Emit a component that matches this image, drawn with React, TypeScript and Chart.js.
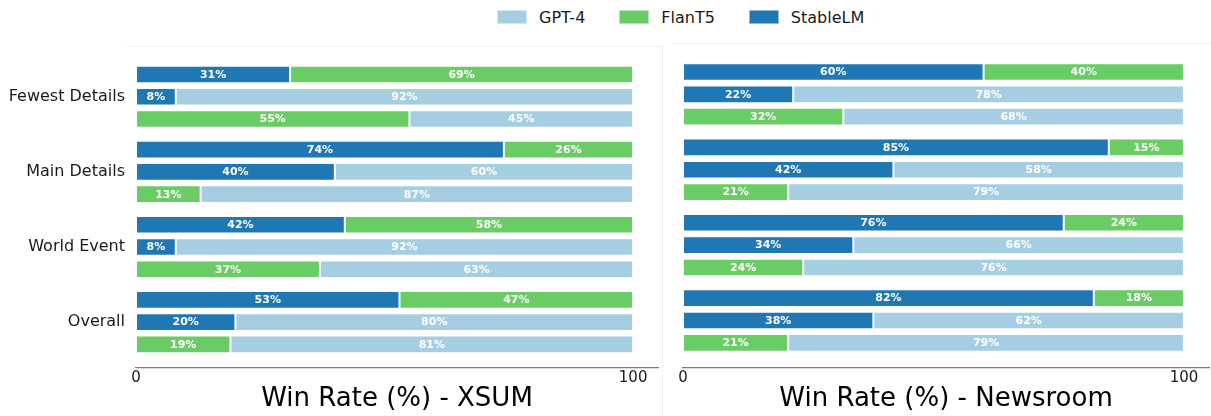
import React, { useEffect, useRef } from "react";
import { Chart, registerables } from "chart.js";

Chart.register(...registerables);

// ---------- data ----------
const categories = ["Fewest Details", "Main Details", "World Event", "Overall"];
const legendLabels = ["GPT-4", "FlanT5", "StableLM"];
const xTickValues = [0, 100];

// XSUM
const xsumRowA_StableLM = [31, 74, 42, 53];
const xsumRowA_FlanT5 = [69, 26, 58, 47];
const xsumRowB_StableLM = [8, 40, 8, 20];
const xsumRowB_GPT4 = [92, 60, 92, 80];
const xsumRowC_FlanT5 = [55, 13, 37, 19];
const xsumRowC_GPT4 = [45, 87, 63, 81];

// Newsroom
const newsRowA_StableLM = [60, 85, 76, 82];
const newsRowA_FlanT5 = [40, 15, 24, 18];
const newsRowB_StableLM = [22, 42, 34, 38];
const newsRowB_GPT4 = [78, 58, 66, 62];
const newsRowC_FlanT5 = [32, 21, 24, 21];
const newsRowC_GPT4 = [68, 79, 76, 79];

// ---------- styles ----------
const COLORS: Record<string, string> = {
  "GPT-4": "#a6cee3",
  FlanT5: "#6acc64",
  StableLM: "#1f77b4",
};
const FONT = '"DejaVu Sans", "Liberation Sans", sans-serif';

type Rows = {
  aStable: number[];
  aFlan: number[];
  bStable: number[];
  bGpt: number[];
  cFlan: number[];
  cGpt: number[];
};

function pts(vals: number[]) {
  return vals.map((v, i) => ({ x: v, y: i }));
}

function makeDatasets(r: Rows) {
  const mk = (label: string, stack: string, vals: number[]) => ({
    label,
    stack,
    data: pts(vals),
    backgroundColor: COLORS[label],
    borderColor: "rgba(255,255,255,0.55)",
    borderWidth: 1,
    borderSkipped: false,
    categoryPercentage: 0.89,
    barPercentage: 0.79,
  });
  return [
    mk("StableLM", "a", r.aStable),
    mk("FlanT5", "a", r.aFlan),
    mk("StableLM", "b", r.bStable),
    mk("GPT-4", "b", r.bGpt),
    mk("FlanT5", "c", r.cFlan),
    mk("GPT-4", "c", r.cGpt),
  ];
}

const barLabelPlugin = {
  id: "barLabels",
  afterDatasetsDraw(chart: any) {
    const ctx = chart.ctx;
    ctx.save();
    ctx.font = `bold 11px ${FONT}`;
    ctx.fillStyle = "#ffffff";
    ctx.textAlign = "center";
    ctx.textBaseline = "middle";
    chart.data.datasets.forEach((ds: any, di: number) => {
      const meta = chart.getDatasetMeta(di);
      meta.data.forEach((el: any, i: number) => {
        const v = ds.data[i].x;
        const p = el.getProps(["x", "base", "y"], true);
        ctx.fillText(`${v}%`, (p.x + p.base) / 2, p.y + 0.5);
      });
    });
    ctx.restore();
  },
};

function makeFramePlugin(kind: "left" | "right") {
  return {
    id: "frame",
    beforeDraw(chart: any) {
      const ctx = chart.ctx;
      const a = chart.chartArea;
      ctx.save();
      ctx.strokeStyle = "#f0f0f0";
      ctx.lineWidth = 1;
      ctx.beginPath();
      if (kind === "left") {
        ctx.moveTo(a.left - 9, a.top + 0.5);
        ctx.lineTo(chart.width - 0.5, a.top + 0.5);
        ctx.moveTo(chart.width - 0.5, a.top);
        ctx.lineTo(chart.width - 0.5, chart.height);
      } else {
        ctx.moveTo(10, a.top + 0.5);
        ctx.lineTo(chart.width, a.top + 0.5);
      }
      ctx.stroke();
      ctx.restore();
    },
  };
}

type PanelProps = {
  rows: Rows;
  title: string;
  width: number;
  left: number;
  yAxisWidth: number;
  padRight: number;
  padTop: number;
  yMin: number;
  yMax: number;
  showYLabels: boolean;
  kind: "left" | "right";
};

function Panel(props: PanelProps) {
  const ref = useRef<HTMLCanvasElement | null>(null);
  useEffect(() => {
    if (!ref.current) return;
    const chart = new Chart(ref.current, {
      type: "bar",
      data: { datasets: makeDatasets(props.rows) as any },
      plugins: [makeFramePlugin(props.kind), barLabelPlugin],
      options: {
        indexAxis: "y",
        animation: false,
        responsive: false,
        devicePixelRatio: 1,
        layout: { padding: { top: props.padTop, right: props.padRight, left: 0, bottom: 0 } },
        plugins: {
          legend: { display: false },
          tooltip: { enabled: false },
        },
        scales: {
          x: {
            type: "linear",
            stacked: true,
            min: 0,
            max: 105,
            afterBuildTicks: (s: any) => {
              s.ticks = xTickValues.map((v) => ({ value: v }));
            },
            afterFit: (s: any) => {
              s.height = 48;
            },
            grid: { display: false, drawTicks: false },
            border: { display: true, color: "#7a7a7a", width: 1.25 },
            ticks: {
              padding: 1,
              color: "#1a1a1a",
              font: { family: FONT, size: 15 },
              maxRotation: 0,
              autoSkip: false,
            },
            title: {
              display: true,
              text: props.title,
              color: "#000000",
              font: { family: FONT, size: 26 },
              padding: { top: 0, bottom: 1 },
            },
          },
          y: {
            type: "linear",
            reverse: true,
            offset: false,
            min: props.yMin,
            max: props.yMax,
            afterBuildTicks: (s: any) => {
              s.ticks = categories.map((_, i) => ({ value: i }));
            },
            afterFit: (s: any) => {
              s.width = props.yAxisWidth;
            },
            grid: { display: false, drawTicks: false },
            border: { display: false },
            ticks: {
              display: props.showYLabels,
              padding: 11,
              color: "#1a1a1a",
              autoSkip: false,
              font: { family: FONT, size: 16 },
              callback: (v: any) => categories[Number(v)] ?? "",
            },
          },
        },
      } as any,
    });
    return () => chart.destroy();
  }, []);
  return (
    <canvas
      ref={ref}
      width={props.width}
      height={416}
      style={{ position: "absolute", left: props.left, top: 0, width: props.width, height: 416 }}
    />
  );
}

function Legend() {
  return (
    <div
      style={{
        position: "absolute",
        left: 497,
        top: 0,
        height: 34,
        display: "flex",
        alignItems: "center",
        fontFamily: FONT,
        fontSize: 16,
        color: "#1a1a1a",
        whiteSpace: "nowrap",
      }}
    >
      {legendLabels.map((l, i) => (
        <div key={l} style={{ display: "flex", alignItems: "center", marginLeft: i === 0 ? 0 : 34 }}>
          <div
            style={{
              width: 30,
              height: 14,
              background: COLORS[l],
              boxSizing: "border-box",
              border: "1px solid rgba(255,255,255,0.5)",
              marginRight: 12,
            }}
          />
          <span>{l}</span>
        </div>
      ))}
    </div>
  );
}

export default function App() {
  const xsum: Rows = {
    aStable: xsumRowA_StableLM,
    aFlan: xsumRowA_FlanT5,
    bStable: xsumRowB_StableLM,
    bGpt: xsumRowB_GPT4,
    cFlan: xsumRowC_FlanT5,
    cGpt: xsumRowC_GPT4,
  };
  const news: Rows = {
    aStable: newsRowA_StableLM,
    aFlan: newsRowA_FlanT5,
    bStable: newsRowB_StableLM,
    bGpt: newsRowB_GPT4,
    cFlan: newsRowC_FlanT5,
    cGpt: newsRowC_GPT4,
  };
  return (
    <div
      style={{
        position: "fixed",
        left: 0,
        top: 0,
        width: 1211,
        height: 416,
        background: "#ffffff",
        overflow: "hidden",
      }}
    >
      <Legend />
      <Panel
        rows={xsum}
        title="Win Rate (%) - XSUM"
        width={663}
        left={0}
        yAxisWidth={136}
        padRight={5}
        padTop={46}
        yMin={-0.676}
        yMax={3.611}
        showYLabels={true}
        kind="left"
      />
      <Panel
        rows={news}
        title="Win Rate (%) - Newsroom"
        width={548}
        left={663}
        yAxisWidth={20}
        padRight={2}
        padTop={43}
        yMin={-0.681}
        yMax={3.63}
        showYLabels={false}
        kind="right"
      />
    </div>
  );
}
